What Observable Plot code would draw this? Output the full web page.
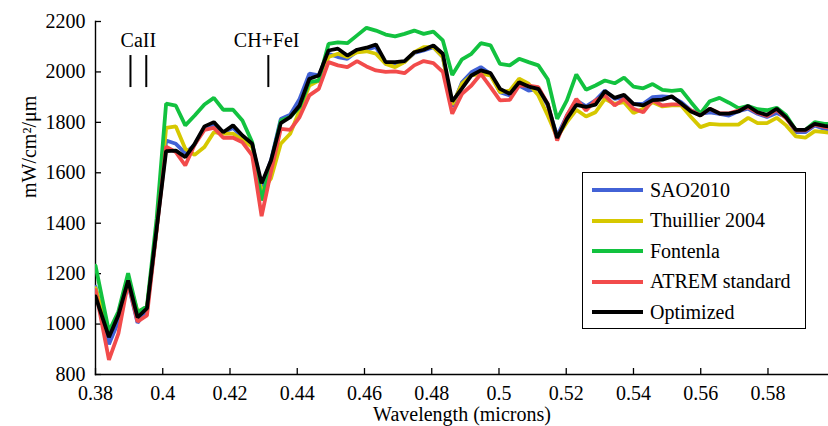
<!DOCTYPE html>
<html>
<head>
<meta charset="utf-8">
<script src="https://cdn.jsdelivr.net/npm/d3@7"></script>
<script src="https://cdn.jsdelivr.net/npm/@observablehq/plot@0.6"></script>
<style>
  html, body { margin: 0; padding: 0; background: #fff; }
  #wrap { position: relative; width: 828px; height: 426px; overflow: hidden; font-family: "Liberation Serif", "Times New Roman", serif; }
  #legend { position: absolute; left: 582px; top: 172px; width: 222px; height: 155px; border: 1.3px solid #000; background: #fff; }
  .row { position: absolute; left: 0; height: 30px; display: flex; align-items: center; font-size: 20px; color: #000; }
  .sw { display: inline-block; width: 51px; height: 4px; margin-left: 9px; margin-right: 7px; }
</style>
</head>
<body>
<div id="wrap"></div>
<script>
const wavelength = [0.38,
  0.3840, 0.3868, 0.3897, 0.3925, 0.3953, 0.3982, 0.4010, 0.4039, 0.4067, 0.4095,
  0.4124, 0.4152, 0.4180, 0.4209, 0.4237, 0.4266, 0.4294, 0.4322, 0.4351, 0.4379,
  0.4407, 0.4436, 0.4464, 0.4493, 0.4521, 0.4549, 0.4578, 0.4606, 0.4634, 0.4663,
  0.4691, 0.4719, 0.4748, 0.4776, 0.4805, 0.4833, 0.4861, 0.4890, 0.4918, 0.4946,
  0.4975, 0.5003, 0.5032, 0.5060, 0.5088, 0.5117, 0.5145, 0.5173, 0.5202, 0.5230,
  0.5259, 0.5287, 0.5315, 0.5344, 0.5372, 0.5400, 0.5429, 0.5457, 0.5486, 0.5514,
  0.5542, 0.5571, 0.5599, 0.5627, 0.5656, 0.5684, 0.5712, 0.5741, 0.5769, 0.5797,
  0.5826, 0.5854, 0.5883, 0.5911, 0.5939, 0.5968, 0.5996];

const sao2010 = [1148,
  920, 1010, 1160, 1005, 1054, 1380, 1728, 1715, 1678, 1712,
  1778, 1790, 1761, 1778, 1741, 1712, 1545, 1650, 1813, 1830,
  1893, 1993, 1986, 2072, 2059, 2052, 2082, 2088, 2099, 2032,
  2030, 2040, 2075, 2085, 2098, 2060, 1862, 1959, 1999, 2019,
  1992, 1920, 1907, 1946, 1926, 1933, 1867, 1746, 1827, 1887,
  1863, 1887, 1926, 1893, 1900, 1871, 1874, 1900, 1903, 1900,
  1880, 1847, 1834, 1840, 1834, 1827, 1844, 1854, 1834, 1821,
  1837, 1821, 1761, 1761, 1788, 1774, 1770];

const thuillier2004 = [1142,
  955, 1040, 1180, 1050, 1064, 1380, 1778, 1784, 1695, 1671,
  1702, 1761, 1755, 1755, 1731, 1702, 1525, 1578, 1715, 1755,
  1847, 1946, 1966, 2059, 2072, 2059, 2078, 2082, 2072, 2032,
  2019, 2039, 2078, 2098, 2098, 2059, 1870, 1953, 1986, 1992,
  1986, 1920, 1926, 1973, 1953, 1907, 1827, 1741, 1801, 1850,
  1823, 1840, 1893, 1873, 1880, 1837, 1854, 1880, 1863, 1867,
  1867, 1821, 1781, 1794, 1791, 1791, 1791, 1818, 1797, 1797,
  1818, 1788, 1744, 1739, 1765, 1761, 1757];

const fontenla = [1232,
  970, 1050, 1202, 1047, 1070, 1420, 1874, 1866, 1788, 1827,
  1871, 1897, 1850, 1850, 1807, 1721, 1490, 1640, 1807, 1821,
  1860, 1960, 1966, 2111, 2117, 2114, 2145, 2175, 2164, 2148,
  2141, 2151, 2164, 2151, 2160, 2125, 1988, 2050, 2072, 2114,
  2105, 2032, 2026, 2052, 2039, 2026, 1971, 1814, 1887, 1990,
  1929, 1946, 1966, 1955, 1977, 1942, 1935, 1952, 1929, 1925,
  1929, 1880, 1835, 1884, 1897, 1878, 1856, 1865, 1852, 1848,
  1858, 1828, 1769, 1770, 1801, 1794, 1794];

const atremStandard = [1135,
  858, 962, 1166, 1010, 1034, 1375, 1704, 1682, 1629, 1712,
  1770, 1778, 1739, 1739, 1721, 1669, 1428, 1605, 1774, 1770,
  1821, 1907, 1933, 2039, 2026, 2019, 2043, 2022, 2006, 2000,
  2002, 1995, 2026, 2043, 2035, 2000, 1834, 1913, 1946, 1992,
  1940, 1887, 1889, 1946, 1946, 1940, 1873, 1728, 1827, 1893,
  1847, 1887, 1907, 1867, 1893, 1854, 1840, 1887, 1867, 1871,
  1871, 1847, 1827, 1854, 1836, 1836, 1847, 1860, 1838, 1825,
  1850, 1816, 1768, 1768, 1792, 1782, 1778];

const optimized = [1110,
  948, 1035, 1173, 1027, 1062, 1380, 1686, 1688, 1662, 1715,
  1784, 1801, 1761, 1788, 1748, 1715, 1558, 1649, 1797, 1821,
  1867, 1973, 1986, 2085, 2092, 2065, 2088, 2096, 2109, 2039,
  2039, 2043, 2078, 2088, 2105, 2072, 1883, 1935, 1986, 2006,
  1995, 1933, 1913, 1959, 1942, 1933, 1873, 1738, 1814, 1869,
  1861, 1870, 1924, 1897, 1909, 1873, 1867, 1888, 1890, 1903,
  1875, 1843, 1827, 1854, 1835, 1835, 1843, 1865, 1840, 1830,
  1854, 1820, 1770, 1770, 1794, 1786, 1781];

const seriesNames = ["SAO2010", "Thuillier 2004", "Fontenla", "ATREM standard", "Optimized"];
const seriesColors = ["#4262d6", "#d6c800", "#12c23f", "#f24b4b", "#000000"];
const seriesValues = [sao2010, thuillier2004, fontenla, atremStandard, optimized];

const xTicks = [0.38, 0.40, 0.42, 0.44, 0.46, 0.48, 0.50, 0.52, 0.54, 0.56, 0.58];
const yTicks = [800, 1000, 1200, 1400, 1600, 1800, 2000, 2200];

const lineMarkers = [0.3904, 0.3951, 0.4314];
const lineLabels = ["CaII", "CH+FeI"];
const lineLabelX = [0.39275, 0.4309];

const rows = seriesNames.flatMap((name, i) =>
  wavelength.map((w, j) => ({series: name, w, v: seriesValues[i][j]})));

const chart = Plot.plot({
  width: 828,
  height: 426,
  marginLeft: 95,
  marginRight: 0,
  marginTop: 21,
  marginBottom: 52,
  style: {fontFamily: "'Liberation Serif', 'Times New Roman', serif", fontSize: "20px", background: "#fff", color: "#000"},
  x: {domain: [0.38, 0.598]},
  y: {domain: [800, 2200]},
  color: {domain: seriesNames, range: seriesColors},
  marks: [
    Plot.frame({anchor: "left", stroke: "#000", strokeWidth: 1.4}),
    Plot.frame({anchor: "bottom", stroke: "#000", strokeWidth: 1.4}),
    Plot.axisX(xTicks, {tickSize: -6, tickPadding: 17, tickFormat: d => String(+d.toFixed(2)), label: null, strokeWidth: 1.3}),
    Plot.axisY(yTicks, {tickSize: -6, tickPadding: 16, tickFormat: d => String(d), label: null, strokeWidth: 1.3}),
    Plot.line(rows, {x: "w", y: "v", z: "series", stroke: "series", strokeWidth: 3.8, strokeLinejoin: "miter", clip: true}),
    Plot.ruleX(lineMarkers, {x: d => d, y1: 1938, y2: 2065, stroke: "#000", strokeWidth: 2}),
    Plot.text(lineLabels, {x: (d, i) => lineLabelX[i], y: 2125, text: d => d, fontSize: 20, fill: "#000", lineAnchor: "middle"}),
    Plot.text(["Wavelength (microns)"], {frameAnchor: "bottom", dy: 40, text: d => d, fontSize: 20, fill: "#000", lineAnchor: "middle"}),
    Plot.text(["mW/cm²/μm"], {frameAnchor: "left", dx: -66, rotate: -90, text: d => d, fontSize: 20, fill: "#000", lineAnchor: "middle"})
  ]
});

const wrap = document.getElementById("wrap");
wrap.appendChild(chart);

const legend = document.createElement("div");
legend.id = "legend";
seriesNames.forEach((name, i) => {
  const row = document.createElement("div");
  row.className = "row";
  row.style.top = (2 + i * 30.5) + "px";
  const sw = document.createElement("span");
  sw.className = "sw";
  sw.style.background = seriesColors[i];
  const label = document.createElement("span");
  label.textContent = name;
  row.appendChild(sw);
  row.appendChild(label);
  legend.appendChild(row);
});
wrap.appendChild(legend);
</script>
</body>
</html>
